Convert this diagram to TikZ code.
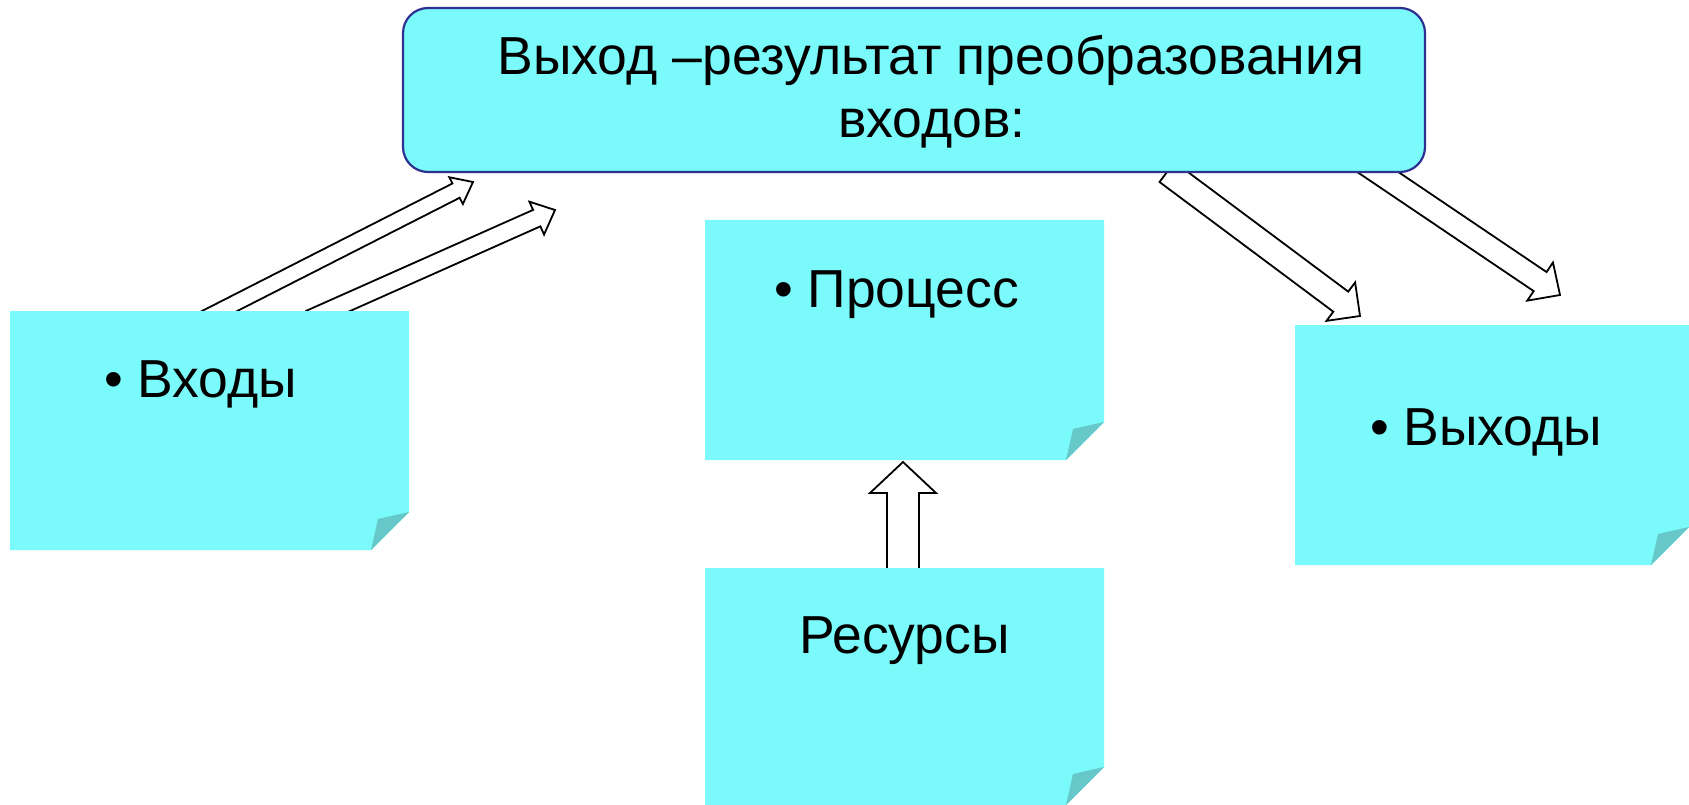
\documentclass[tikz,border=0pt]{standalone}
\usepackage{fontspec}
\setmainfont{Liberation Sans}
\usetikzlibrary{calc}
\definecolor{notefill}{RGB}{122,250,250}
\definecolor{foldfill}{RGB}{102,200,200}
\definecolor{titleblue}{RGB}{46,49,146}
\newcommand\notebox[1]{%
  \fill[notefill] (#1.north west) -- (#1.north east) -- ([yshift=38pt]#1.south east) -- ([xshift=-38pt]#1.south east) -- (#1.south west) -- cycle;
  \fill[foldfill] ([yshift=38pt]#1.south east) -- ([xshift=-31pt,yshift=31pt]#1.south east) -- ([xshift=-38pt]#1.south east) -- cycle;}
\newcommand\blockarr[5]{%
  \path ($(#2)!#5!(#1)$) coordinate (hb);
  \draw[blockarrow] ($(#1)!#3!90:(#2)$) -- ($(hb)!#3!90:(#2)$) -- ($(hb)!#4!90:(#2)$) -- (#2)
    -- ($(hb)!#4!-90:(#2)$) -- ($(hb)!#3!-90:(#2)$) -- ($(#1)!#3!-90:(#2)$) -- cycle;}
\begin{document}
\begin{tikzpicture}[x=1pt,y=-1pt,
  boxshape/.style={rectangle, inner sep=0pt, outer sep=0pt},
  titlebox/.style={rectangle, inner sep=0pt, outer sep=0pt, rounded corners=25pt, draw=titleblue, line width=2.2pt, fill=notefill},
  txt/.style={inner sep=0pt, outer sep=0pt, font=\fontsize{53.5}{64}\selectfont},
  blockarrow/.style={draw=black, fill=white, line width=1.8pt, line join=miter}]
\useasboundingbox (0,0) rectangle (1689,805);
% note boxes (invisible frames)
\node[boxshape, minimum width=399pt, minimum height=239pt] (inbox) at (209.5,430.5) {};
\node[boxshape, minimum width=399pt, minimum height=240pt] (procbox) at (904.5,340) {};
\node[boxshape, minimum width=399pt, minimum height=237pt] (resbox) at (904.5,686.5) {};
\node[boxshape, minimum width=394pt, minimum height=240pt] (outbox) at (1492,445) {};
% arrow end points
\coordinate (l1tail) at (200,321);  \coordinate (l1tip) at (473,182);
\coordinate (l2tail) at (310,319);  \coordinate (l2tip) at (555,210);
\coordinate (r1tail) at (1167,172); \coordinate (r1tip) at (1360,316);
\coordinate (r2tail) at (1360,160); \coordinate (r2tip) at (1560,295);
\coordinate (uptail) at (903,585);  \coordinate (uptip) at (903,462);
% arrows (behind boxes)
\blockarr{l1tail}{l1tip}{8pt}{15pt}{19pt}
\blockarr{l2tail}{l2tip}{9pt}{18pt}{20pt}
\blockarr{r1tail}{r1tip}{12.5pt}{24pt}{24pt}
\blockarr{r2tail}{r2tip}{11.5pt}{23pt}{24pt}
\blockarr{uptail}{uptip}{16pt}{33pt}{31pt}
% boxes
\notebox{inbox}
\notebox{procbox}
\notebox{resbox}
\notebox{outbox}
\node[titlebox, minimum width=1022pt, minimum height=164pt] (title) at (914,90) {};
% texts
\node[txt, anchor=base] (title1) at (931,75) {Выход –результат преобразования};
\node[txt, anchor=base] (title2) at (932,138) {входов:};
\node[txt, anchor=base west] (intext) at (104,397) {• Входы};
\node[txt, anchor=base west] (proctext) at (774,307) {• Процесс};
\node[txt, anchor=base west] (outtext) at (1370,445) {• Выходы};
\node[txt, anchor=base west] (restext) at (799,653) {Ресурсы};
\end{tikzpicture}
\end{document}
